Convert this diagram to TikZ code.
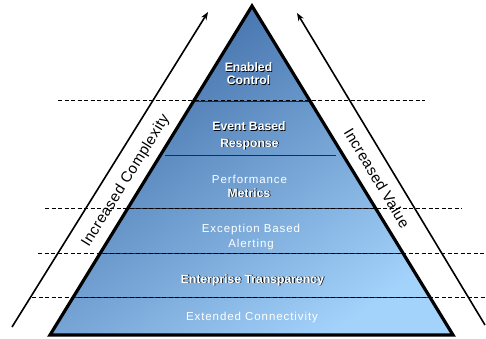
\documentclass[tikz,border=0pt]{standalone}
\usepackage{fontspec}
\setmainfont{Liberation Sans}
\usetikzlibrary{arrows.meta}
\definecolor{pyrdark}{HTML}{3C6AA5}
\definecolor{pyrlight}{HTML}{A3D2FB}
\definecolor{bandline}{HTML}{1B2D4A}
\newcommand\dropshade[1]{\makebox[0pt][l]{\hspace{0.8pt}\raisebox{-0.8pt}{\color{black}#1}}#1}
\begin{document}
\begin{tikzpicture}[x=1pt,y=-1pt,
    tier/.style={text=white,anchor=base,inner sep=0pt,
      font=\fontsize{11.5}{14}\selectfont\addfontfeature{LetterSpace=8}},
    tierbold/.style={text=white,anchor=base,inner sep=0pt,
      font=\fontsize{12.2}{14}\selectfont\bfseries},
    side/.style={inner sep=0pt,
      font=\fontsize{15}{15}\selectfont\addfontfeature{LetterSpace=3}},
    trend/.style={line width=1.6pt,-{Stealth[length=8pt,width=6pt]}},
    level/.style={line width=1pt,dash pattern=on 4pt off 2.5pt}]
  \useasboundingbox (0,0) rectangle (486,339);
  \coordinate (apex) at (252,6);
  \coordinate (bl) at (50,335);
  \coordinate (br) at (453,335);
  \shade[top color=pyrdark,bottom color=pyrlight,shading angle=35]
    (apex) -- (bl) -- (br) -- cycle;
  % band borders
  \begin{scope}
    \clip (apex) -- (bl) -- (br) -- cycle;
    \foreach \y in {101,208,253,297}
      \draw[bandline,line width=0.8pt] (40,\y) -- (470,\y);
  \end{scope}
  \draw[bandline,line width=0.9pt] (165,155) -- (336,155);
  \draw[line width=3.2pt,line join=miter] (apex) -- (bl) -- (br) -- cycle;
  % dashed levels
  \foreach \y/\a/\b in {101/58/425,208/45/462,253/38/486,297/32/486}
    \draw[level] (\a,\y) -- (\b,\y);
  % arrows
  \coordinate (cx-tail) at (12,327);
  \coordinate (cx-head) at (208,12);
  \coordinate (val-tail) at (485,325);
  \coordinate (val-head) at (297,13);
  \draw[trend] (cx-tail) -- (cx-head);
  \draw[trend] (val-tail) -- (val-head);
  \node[side,rotate=58] (complexity) at (126,181) {Increased Complexity};
  \node[side,rotate=-59] (value) at (377,178) {Increased Value};
  % tiers
  \node[tierbold] (enabled) at (248.5,72) {\dropshade{Enabled}};
  \node[tierbold] (control) at (248.5,85) {\dropshade{Control}};
  \node[tierbold] (event) at (249,131) {\dropshade{Event Based}};
  \node[tierbold] (response) at (249.5,147) {\dropshade{Response}};
  \node[tier] (perf) at (249.5,183.5) {Performance};
  \node[tierbold] (metrics) at (249,197) {\dropshade{Metrics}};
  \node[tier] (exception) at (251,232) {Exception Based};
  \node[tier] (alerting) at (251,247) {Alerting};
  \node[tierbold] (transp) at (252.5,283) {\dropshade{Enterprise Transparency}};
  \node[tier] (connect) at (252,320) {Extended Connectivity};
\end{tikzpicture}
\end{document}
